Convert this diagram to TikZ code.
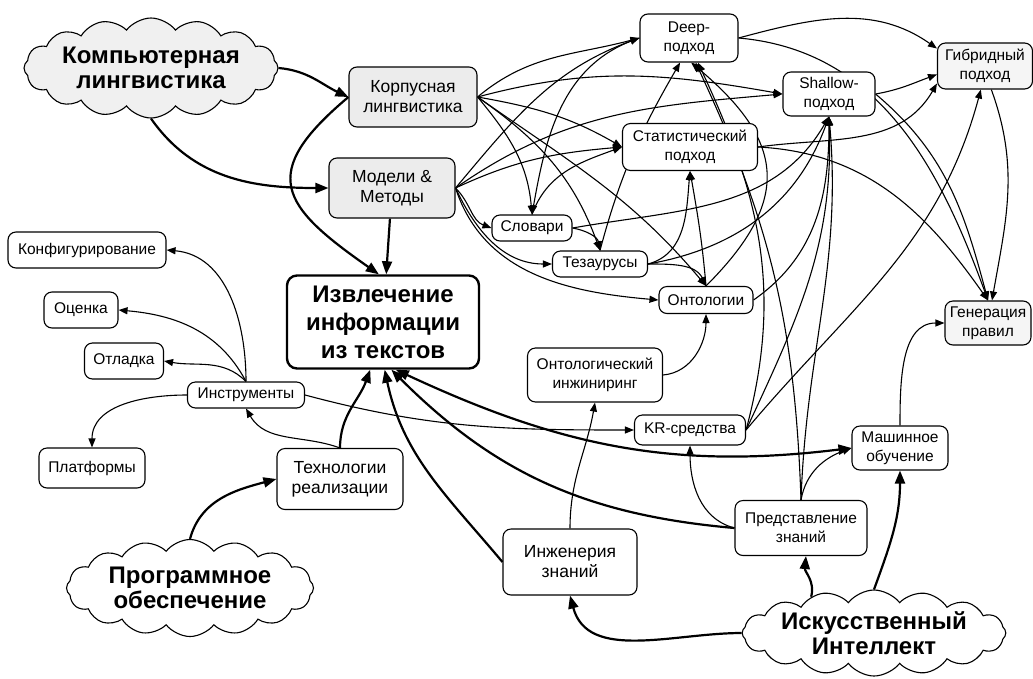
\documentclass[tikz,border=0pt]{standalone}
\usepackage{fontspec}
\setmainfont{Liberation Sans}
\usetikzlibrary{arrows.meta, shapes.symbols, backgrounds}

\begin{document}
\begin{tikzpicture}[x=1pt, y=1pt,
        box/.style={rectangle, rounded corners=8pt, draw, line width=1.1pt, fill=white, align=center, inner sep=2pt, font=\fontsize{15.5}{19}\selectfont},
        bigbox/.style={box, font=\fontsize{17.5}{20}\selectfont},
        topicbox/.style={box, line width=2.4pt, rounded corners=10pt, font=\fontsize{24}{28}\selectfont\bfseries},
        cloudbox/.style={cloud, cloud puffs=16, cloud puff arc=105, cloud ignores aspect, draw, line width=1.1pt, fill=white, align=center, inner sep=0pt, font=\fontsize{24}{25}\selectfont\bfseries},
        link/.style={->, >={Triangle[length=9pt, width=7pt]}, line width=1.1pt},
        mainlink/.style={->, >={Triangle[length=13pt, width=10pt]}, line width=2.2pt}
    ]
        \useasboundingbox (0,0) rectangle (1033,-678);

        \node[cloudbox, fill=gray!12, minimum width=254pt, minimum height=100pt] (cl) at (151,-68) {Компьютерная\\лингвистика};
        \node[cloudbox, minimum width=247pt, minimum height=97pt] (cs) at (190,-588) {Программное\\обеспечение};
        \node[cloudbox, minimum width=247pt, minimum height=86pt] (ci) at (874,-633) {Искусственный\\Интеллект};

        \node[bigbox, fill=gray!15, minimum width=128pt, minimum height=60pt] (korp) at (413,-97) {Корпусная\\лингвистика};
        \node[bigbox, fill=gray!15, minimum width=126pt, minimum height=60pt] (model) at (392,-188) {Модели \&\\Методы};
        \node[topicbox, minimum width=192pt, minimum height=93pt] (iet) at (383,-322) {Извлечение\\информации\\из текстов};

        \node[box, minimum width=158pt, minimum height=36pt] (konf) at (87,-250) {Конфигурирование};
        \node[box, minimum width=74pt, minimum height=36pt] (ocenka) at (81,-310) {Оценка};
        \node[box, minimum width=79pt, minimum height=36pt] (otladka) at (124,-361) {Отладка};
        \node[box, minimum width=117pt, minimum height=26pt] (instr) at (246,-395) {Инструменты};
        \node[box, minimum width=106pt, minimum height=40pt] (platf) at (92,-468) {Платформы};
        \node[bigbox, minimum width=126pt, minimum height=61pt] (tech) at (340,-479) {Технологии\\реализации};

        \node[box, minimum width=98pt, minimum height=48pt] (deep) at (689,-38) {Deep-\\подход};
        \node[box, minimum width=92pt, minimum height=44pt] (shallow) at (829,-94) {Shallow-\\подход};
        \node[box, fill=gray!8, minimum width=95pt, minimum height=46pt] (hybrid) at (985,-66) {Гибридный\\подход};
        \node[box, minimum width=135pt, minimum height=47pt] (stat) at (690,-147) {Статистический\\подход};
        \node[box, minimum width=80pt, minimum height=26pt] (slov) at (532,-228) {Словари};
        \node[box, minimum width=95pt, minimum height=26pt] (tez) at (600,-264) {Тезаурусы};
        \node[box, minimum width=94pt, minimum height=27pt] (onto) at (706,-300) {Онтологии};
        \node[box, fill=gray!8, minimum width=86pt, minimum height=44pt] (gen) at (988,-323) {Генерация\\правил};

        \node[box, minimum width=135pt, minimum height=54pt] (ontoeng) at (595,-375) {Онтологический\\инжиниринг};
        \node[box, minimum width=111pt, minimum height=30pt] (kr) at (690,-430) {KR-средства};
        \node[box, minimum width=96pt, minimum height=44pt] (ml) at (900,-448) {Машинное\\обучение};
        \node[box, minimum width=132pt, minimum height=55pt] (pred) at (801,-528) {Представление\\знаний};
        \node[bigbox, minimum width=134pt, minimum height=66pt] (inzh) at (570,-562) {Инженерия\\знаний};

        \begin{scope}[on background layer]
        \draw[mainlink] (cl.east) to[out=-5,in=155] (korp.west);
        \draw[mainlink] (cl.south) to[out=-55,in=180] (model.west);
        \draw[mainlink] (korp.west) to[out=220,in=145,looseness=1.7] (iet.95);
        \draw[mainlink] (model) -- (iet);
        \draw[mainlink] (cs.north) to[out=75,in=195] (tech.west);
        \draw[mainlink] (tech.north) to[out=90,in=250] (iet.-105);
        \draw[mainlink] (inzh.west) to[out=130,in=-78] (iet.-88);
        \draw[mainlink] (pred.west) to[out=175,in=-45] (iet.-80);
        \draw[mainlink, <->] (iet.-75) to[out=-25,in=187] (ml.west);
        \draw[mainlink] (ci.west) to[out=180,in=-75] (inzh.south);
        \draw[mainlink] (ci.150) to[out=75,in=-95] (pred.-80);
        \draw[mainlink] (ci.north) to[out=70,in=-90] (ml.south);

        \draw[link] (tech.north) to[out=160,in=-60] (instr.south);
        \draw[link] (instr.north) to[out=90,in=-5] (konf.east);
        \draw[link] (instr.north) to[out=118,in=-5] (ocenka.east);
        \draw[link] (instr.north) to[out=135,in=-10] (otladka.east);
        \draw[link] (instr.west) to[out=180,in=90] (platf.north);
        \draw[link] (instr.east) to[out=-15,in=180] (kr.west);

        \draw[link] (korp.east) to[out=40,in=195] (deep.west);
        \draw[link] (korp.east) to[out=15,in=170] (shallow.west);
        \draw[link] (korp.east) to[out=-10,in=150] (stat.west);
        \draw[link] (korp.east) to[out=-50,in=95] (slov.north);
        \draw[link] (korp.east) to[out=-35,in=110] (tez.north);
        \draw[link] (korp.east) to[out=-35,in=130] (onto.north);

        \draw[link] (model.east) to[out=50,in=200] (deep.west);
        \draw[link] (model.east) to[out=35,in=185] (shallow.west);
        \draw[link] (model.east) to[out=25,in=185] (stat.west);
        \draw[link] (model.east) to[out=-45,in=160] (slov.west);
        \draw[link] (model.east) to[out=-65,in=180] (tez.west);
        \draw[link] (model.east) to[out=-72,in=175] (onto.west);

        \draw[link] (deep.west) to[out=198,in=80] (slov.north);
        \draw[link] (slov.north) to[out=70,in=200] (stat.west);
        \draw[link] (slov.east) to[out=-10,in=100] (tez.north);
        \draw[link] (slov.east) to[out=10,in=-120] (shallow.south);

        \draw[link] (tez.north) to[out=75,in=-120] (deep.-110);
        \draw[link] (tez.east) to[out=15,in=-95] (stat.south);
        \draw[link] (tez.east) to[out=0,in=115] (onto.north);
        \draw[link] (tez.east) to[out=10,in=-110] (shallow.south);

        \draw[link] (onto.north) to[out=95,in=-80] (stat.south);
        \draw[link] (onto.north) to[out=45,in=-40,looseness=1.4] (deep.-85);
        \draw[link] (onto.east) to[out=35,in=-90] (shallow.south);
        \draw[link] (ontoeng.east) to[out=5,in=-90] (onto.south);
        \draw[link] (inzh.north) to[out=90,in=-100] (ontoeng.south);

        \draw[link] (kr.east) to[out=75,in=-65] (deep.-70);
        \draw[link] (kr.east) to[out=65,in=-88] (shallow.south);
        \draw[link] (kr.east) to[out=50,in=-105] (hybrid.-100);

        \draw[link] (pred.west) to[out=165,in=-90] (kr.south);
        \draw[link] (pred.north) to[out=80,in=200] (ml.west);
        \draw[link] (pred.north) to[out=92,in=-65] (deep.-75);
        \draw[link] (pred.north) to[out=88,in=-85] (shallow.south);

        \draw[link] (deep.east) to[out=15,in=145] (hybrid.160);
        \draw[link] (deep.east) to[out=-5,in=110] (gen.north);
        \draw[link] (shallow.east) to[out=10,in=200] (hybrid.190);
        \draw[link] (shallow.east) to[out=-40,in=105] (gen.north);
        \draw[link] (stat.east) to[out=8,in=240] (hybrid.200);
        \draw[link] (stat.east) to[out=-3,in=125] (gen.north);
        \draw[link] (hybrid.-75) to[out=-70,in=80] (gen.80);
        \draw[link] (ml.north) to[out=90,in=180] (gen.west);
        \end{scope}
    \end{tikzpicture}
\end{document}
